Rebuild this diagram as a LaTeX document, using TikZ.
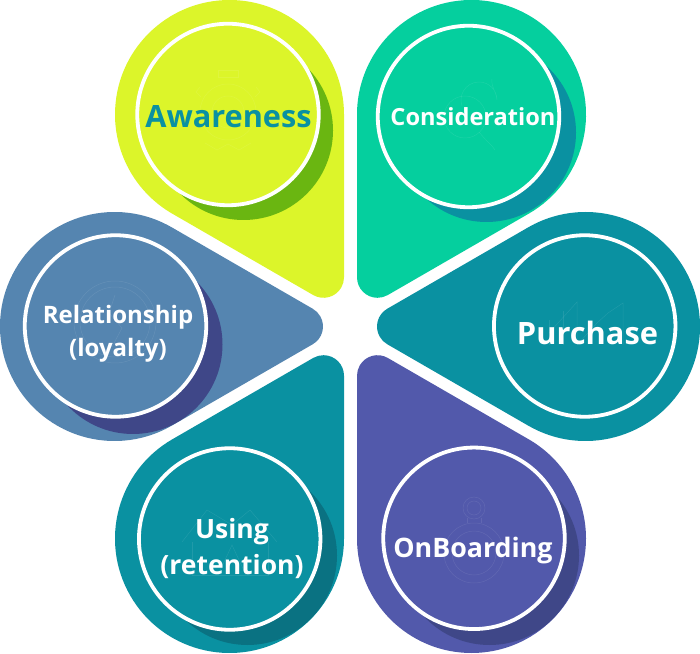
\documentclass[tikz,border=0pt]{standalone}
\usepackage{fontspec}
\setmainfont{Open Sans}
\usetikzlibrary{calc}
\definecolor{lime}{HTML}{DCF52A}
\definecolor{limeD}{HTML}{6AB611}
\definecolor{mint}{HTML}{05CF9E}
\definecolor{teal1}{HTML}{0A91A1}
\definecolor{teal2}{HTML}{0A7282}
\definecolor{indigo}{HTML}{5259AB}
\definecolor{indigoD}{HTML}{3F4788}
\definecolor{steel}{HTML}{5585B0}
\tikzset{
  ringline/.style={draw=white,line width=3.8pt,circle,minimum size=181.5pt,inner sep=0pt,outer sep=0pt},
  lbl/.style={text=white,align=center,inner sep=0pt},
  ghost/.style={draw=white,draw opacity=.09,line width=.5pt,fill=none},
}
% #1 cx, #2 cy (from top), #3 tip angle, #4 colour
\newcommand{\petal}[4]{%
  \begin{scope}[shift={(#1,653-#2)},rotate=#3]
    \fill[#4] (60:114.5) arc[start angle=60,end angle=300,radius=114.5]
      -- ($(188,0)+(-60:20.5)$) arc[start angle=-60,end angle=60,radius=20.5] -- cycle;
  \end{scope}}
\begin{document}
\begin{tikzpicture}[x=1pt,y=1pt]
\useasboundingbox (0,0) rectangle (700,653);
\petal{229.5}{114.5}{-60}{lime}
\petal{471.5}{114.5}{-120}{mint}
\petal{585.5}{326.5}{180}{teal1}
\petal{471.5}{538.5}{120}{indigo}
\petal{229.5}{538.5}{60}{teal1}
\petal{114.5}{326.5}{0}{steel}
% crescent shadows
\fill[limeD] (243.5,522.5) circle[radius=89.5];
\fill[teal1] (486.5,520.5) circle[radius=89.5];
\fill[indigoD] (489.5,97.5) circle[radius=89.5];
\fill[teal2] (247.5,97.5) circle[radius=89.5];
\fill[indigoD] (133,308.5) circle[radius=89.5];
% discs with white rings
\node[ringline,fill=lime] (aw) at (228,538.5) {};
\node[ringline,fill=mint] (co) at (468.5,536.5) {};
\node[ringline,fill=teal1] (pu) at (584.7,327) {};
\node[ringline,fill=indigo] (on) at (474,114.7) {};
\node[ringline,fill=teal1] (us) at (229.7,114) {};
\node[ringline,fill=steel] (re) at (115.5,327) {};
% faint icons
% gear
\draw[ghost] (218,576) rectangle (238,583);
\draw[ghost] (228,541) circle[radius=28];
\draw[ghost] (228,541) circle[radius=16];
\draw[ghost] (200,566) -- (196,561) -- (201,556);
\draw[ghost] (256,566) -- (260,561) -- (255,556);
\draw[ghost] (205,510) -- (217,503) -- (228,509) -- (239,503) -- (251,510);
% speech bubbles
\draw[ghost] (492,574) .. controls (491,566) and (496,562) .. (497,553) arc[start angle=0,end angle=200,radius=18] ;
\draw[ghost] (465,536) circle[radius=21];
\draw[ghost] (479,521) .. controls (488,510) and (492,508) .. (495,503);
% buildings
\draw[ghost] (549,320) -- (577,351) -- (577,308) -- (597,330) -- (608,340) -- (623,350) -- (623,308);
\draw[ghost] (549,333) -- (549,308);
\draw[ghost] (563,342) -- (563,308);
% stopwatch
\draw[ghost] (474,145) circle[radius=11];
\draw[ghost] (474,145) circle[radius=7];
\draw[ghost] (474,100) circle[radius=30];
\draw[ghost] (474,100) circle[radius=22];
\draw[ghost] (467,135) -- (467,130);
\draw[ghost] (481,135) -- (481,130);
% houses
\draw[ghost] (182,111) -- (207,143) -- (232,128) -- (250,143) -- (277,111);
\draw[ghost] (192,111) -- (192,78) -- (268,78) -- (268,111);
\draw[ghost] (218,78) -- (232,108) -- (246,78);
% relationship emblem
\draw[ghost] (115,331) circle[radius=41];
\draw[ghost] (115,331) circle[radius=35];
\draw[ghost] (115,358) -- (109,340) -- (122,325) -- (112,306);
% labels
\node[lbl,text=teal1,font=\bfseries\fontsize{30.7}{36}\selectfont] (awt) at (228.5,536.5) {Awareness};
\node[lbl,font=\bfseries\fontsize{23.6}{28}\selectfont] (cot) at (473,536) {Consideration};
\node[lbl,font=\bfseries\fontsize{30.8}{36}\selectfont] (put) at (587.5,320) {Purchase};
\node[lbl,font=\bfseries\fontsize{26.8}{32}\selectfont] (ont) at (473,102) {OnBoarding};
\node[lbl,font=\bfseries\fontsize{26.5}{36}\selectfont] (ust) at (232,104.5) {Using\\(retention)};
\node[lbl,font=\bfseries\fontsize{24}{33.5}\selectfont] (ret) at (118,319) {Relationship\\(loyalty)};
\end{tikzpicture}
\end{document}
